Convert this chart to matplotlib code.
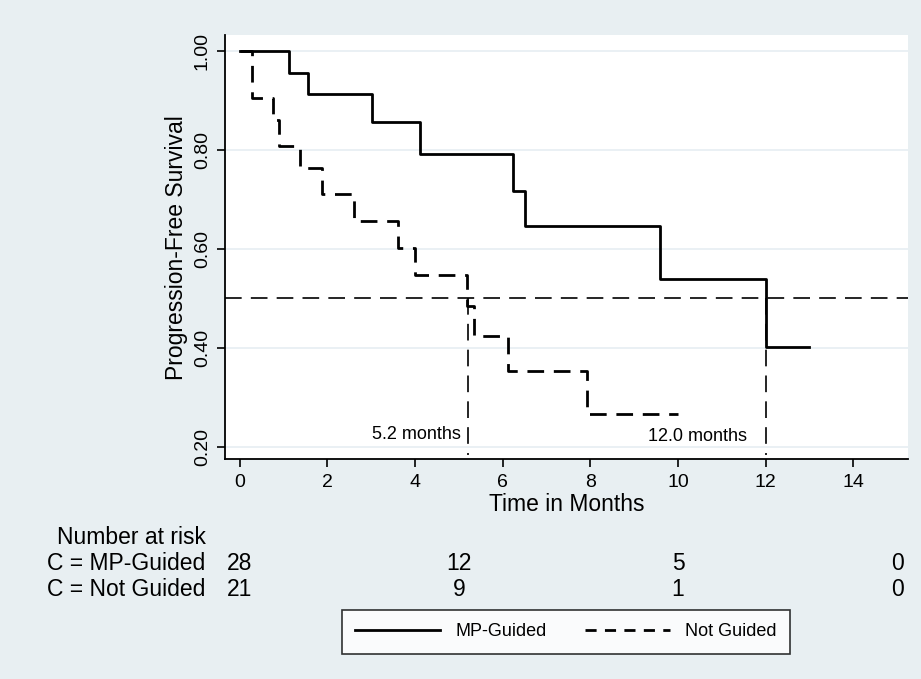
import matplotlib
matplotlib.use("Agg")
import matplotlib.pyplot as plt
from matplotlib.lines import Line2D

plt.rcParams['font.family'] = ['Liberation Sans', 'DejaVu Sans']

# Kaplan-Meier step data (time of step, survival after step)
mp_times = [0, 1.13, 1.55, 3.03, 4.11, 6.23, 6.51, 9.59, 12.0, 13.0]
mp_surv = [1.00, 0.955, 0.913, 0.856, 0.791, 0.717, 0.646, 0.538, 0.402, 0.402]

ng_times = [0, 0.29, 0.76, 0.90, 1.37, 1.88, 2.60, 3.62, 4.01, 5.19, 5.34, 6.12, 7.92, 10.0]
ng_surv = [1.00, 0.905, 0.860, 0.808, 0.762, 0.710, 0.656, 0.602, 0.547, 0.485, 0.424, 0.353, 0.265, 0.265]

medians = [5.2, 12.0]
median_labels = ["5.2 months", "12.0 months"]

x_ticks = [0, 2, 4, 6, 8, 10, 12, 14]
y_ticks = [0.20, 0.40, 0.60, 0.80, 1.00]

risk_times = [0, 5, 10, 15]
risk_groups = ["C = MP-Guided", "C = Not Guided"]
risk_mp = [28, 12, 5, 0]
risk_ng = [21, 9, 1, 0]

bg = "#e8eff2"
fig = plt.figure(figsize=(9.21, 6.79), dpi=100, facecolor=bg)
ax = fig.add_axes([0.244, 0.324, 0.742, 0.624])
ax.set_facecolor("white")

ax.set_xlim(-0.34, 15.25)
ax.set_ylim(0.175, 1.031)

for yt in y_ticks:
    ax.axhline(yt, color="#e6eef2", lw=1.2, zorder=0)

# median reference lines
ax.axhline(0.5, color="black", lw=1.2, ls=(0, (10, 5.5)), zorder=1)
for m in medians:
    ax.plot([m, m], [0.5, 0.184], color="black", lw=1.2, ls=(0, (10, 5.5)), zorder=1)
ax.text(medians[0] - 0.15, 0.224, median_labels[0], ha="right", va="center", fontsize=13)
ax.text(medians[1] - 0.42, 0.22, median_labels[1], ha="right", va="center", fontsize=13)

ax.step(mp_times, mp_surv, where="post", color="black", lw=2, zorder=3)
ax.step(ng_times, ng_surv, where="post", color="black", lw=2, ls=(0, (6, 3.5)), zorder=3)

ax.set_xticks(x_ticks)
ax.set_yticks(y_ticks)
ax.set_yticklabels([f"{v:.2f}" for v in y_ticks], rotation=90, va="center")
ax.tick_params(axis="both", labelsize=14, length=6, width=1.2, direction="out", color="black")
ax.tick_params(axis="x", pad=5)
ax.tick_params(axis="y", pad=4)

for s in ["top", "right"]:
    ax.spines[s].set_visible(False)
for s in ["left", "bottom"]:
    ax.spines[s].set_linewidth(1.3)
    ax.spines[s].set_color("black")

ax.set_ylabel("Progression-Free Survival", fontsize=16.5, labelpad=4)
ax.set_xlabel("Time in Months", fontsize=16.5, labelpad=1)

# number at risk table
fig.text(57 / 921, 1 - 538 / 679, "Number at risk", fontsize=16.5, ha="left", va="center")
for row, (grp, vals) in enumerate([(risk_groups[0], risk_mp), (risk_groups[1], risk_ng)]):
    yfig = 1 - (564 + 25 * row) / 679
    fig.text(47 / 921, yfig, grp, fontsize=16.5, ha="left", va="center")
    for t, v in zip(risk_times, vals):
        xdisp = ax.transData.transform((t, 0.5))[0]
        xfig = fig.transFigure.inverted().transform((xdisp, 0))[0]
        fig.text(xfig, yfig, str(v), fontsize=16.5, ha="center", va="center")

handles = [Line2D([], [], color="black", lw=2),
           Line2D([], [], color="black", lw=2, ls=(0, (4, 3)))]
leg = fig.legend(handles, ["MP-Guided", "Not Guided"], loc="center",
                 bbox_to_anchor=(566 / 921, 1 - 632 / 679), ncol=2, frameon=True,
                 fancybox=False, edgecolor="black", fontsize=13, handlelength=4.7,
                 columnspacing=2.1, handletextpad=0.85, borderpad=0.75)
leg.get_frame().set_linewidth(1.2)

fig.savefig("out.png", dpi=100, facecolor=bg)
